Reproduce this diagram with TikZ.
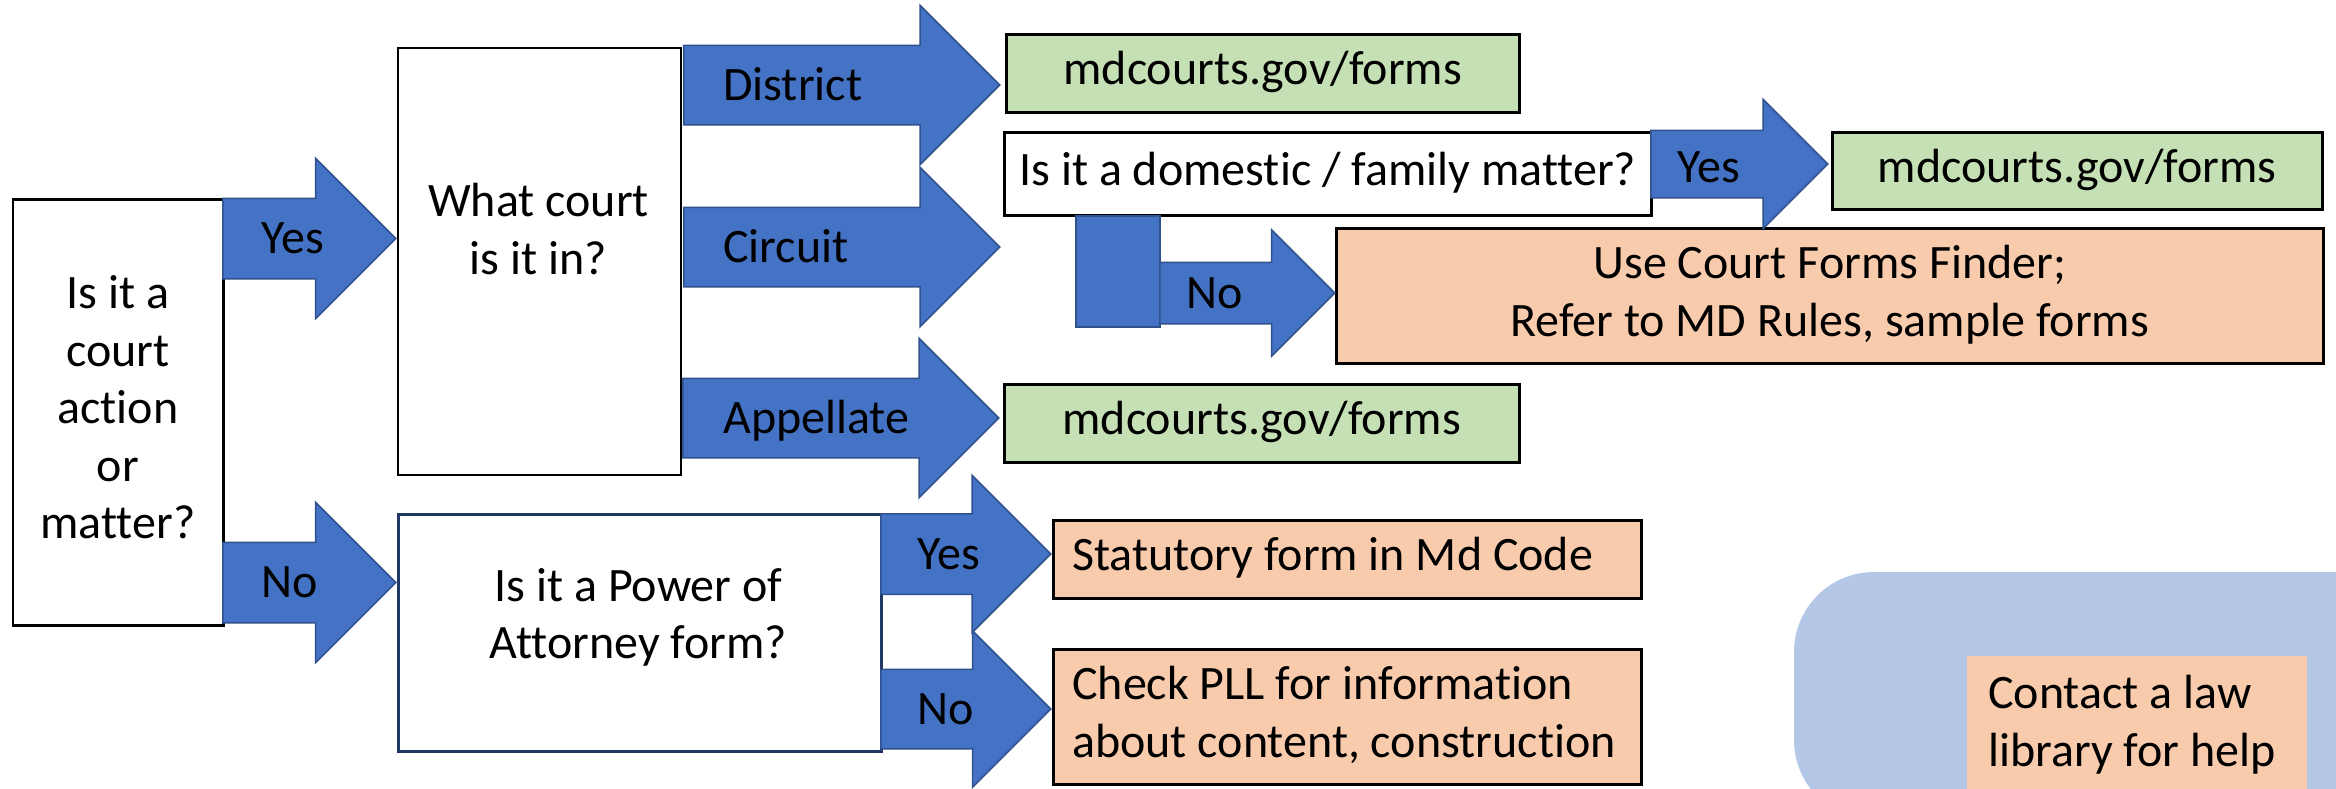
\documentclass[tikz,border=0pt]{standalone}
\usepackage{fontspec}
\setmainfont{Carlito}[Ligatures=NoCommon]
\usetikzlibrary{shapes.arrows}
\definecolor{arrowblue}{HTML}{4472C4}
\definecolor{arrowedge}{HTML}{2F528F}
\definecolor{boxgreen}{HTML}{C5E0B4}
\definecolor{boxorange}{HTML}{F8CBAD}
\definecolor{bgblue}{HTML}{B4C7E7}
\definecolor{navyedge}{HTML}{203864}
\newcommand{\bigfont}{\fontsize{48}{57.6}\selectfont}
\begin{document}
\begin{tikzpicture}[x=1pt,y=-1pt,
  box/.style={draw=black, line width=2.5pt, rectangle, inner sep=0pt, align=center, anchor=north west, font=\bigfont},
  leftbox/.style={box, align=flush left, inner xsep=19pt},
  blk/.style={single arrow, fill=arrowblue, draw=arrowedge, line width=1.5pt, inner xsep=0pt, anchor=tail, shape border rotate=0},
  lbl/.style={font=\bigfont, inner sep=0pt, anchor=base west},
  txt/.style={font=\bigfont, inner sep=0pt, align=center}]
\useasboundingbox (0,0) rectangle (2336,788);

% background panel
\fill[bgblue, rounded corners=80pt] (1794,820) -- (1794,572) -- (2420,572) -- (2420,820) -- cycle;

% question boxes
\node[box, minimum width=210.5pt, minimum height=426pt] (q1) at (11.5,198)
  {\strut Is it a\\\strut court\\\strut action\\\strut or\\\strut matter?};
\node[box, line width=2pt, minimum width=283pt, minimum height=427pt] (q2) at (397,47) {};
\node[txt] (q2t) at (538.5,234) {\strut What court\\\strut is it in?};
\node[box, draw=navyedge, minimum width=483pt, minimum height=237pt] (poa) at (397,513) {};
\node[txt] (poat) at (638.5,618.5) {\strut Is it a Power of\\\strut Attorney form?};
\node[box, fill=white, minimum width=647pt, minimum height=83pt] (dom) at (1003,131)
  {\strut Is it a domestic / family matter?};

% result boxes
\node[box, fill=boxgreen, minimum width=513pt, minimum height=78pt] (g1) at (1005,33) {\strut mdcourts.gov/forms};
\node[box, fill=boxgreen, minimum width=490pt, minimum height=77pt] (g2) at (1831,131) {\strut mdcourts.gov/forms};
\node[box, fill=boxgreen, minimum width=515pt, minimum height=78pt] (g3) at (1003,383) {\strut mdcourts.gov/forms};
\node[box, fill=boxorange, minimum width=987pt, minimum height=135pt] (o1) at (1335,227)
  {\strut Use Court Forms Finder;\\\strut Refer to MD Rules, sample forms};
\node[leftbox, fill=boxorange, text width=550pt, minimum height=78pt] (o2) at (1052,519)
  {\mbox{\strut Statutory form in Md Code}};
\node[leftbox, fill=boxorange, text width=550pt, minimum height=135pt] (o3) at (1052,648)
  {\mbox{\strut Check PLL for information}\\\mbox{\strut about content, construction}};
\node[box, draw=none, fill=boxorange, align=flush left, inner xsep=21pt, text width=298pt, minimum height=140pt] (o4) at (1966,655)
  {\mbox{\strut Contact a law}\\\mbox{\strut library for help}};

% block arrows
\node[blk, minimum height=173pt, inner ysep=39.5pt, single arrow head extend=40pt] (ayes) at (222,238.5) {};
\node[lbl] (lyes) at (261,253.5) {Yes};
\node[blk, minimum height=173pt, inner ysep=39.5pt, single arrow head extend=40pt] (ano) at (222,582.5) {};
\node[lbl] (lno) at (261,597.5) {No};

\node[blk, minimum height=316pt, inner ysep=39pt, single arrow head extend=40pt] (adis) at (683,85) {};
\node[lbl] (ldis) at (723,100) {District};
\node[blk, minimum height=316pt, inner ysep=39pt, single arrow head extend=40pt] (acir) at (683,247) {};
\node[lbl] (lcir) at (723,262) {Circuit};
\node[blk, minimum height=316pt, inner ysep=39pt, single arrow head extend=40pt] (aapp) at (682,418) {};
\node[lbl] (lapp) at (723,433) {Appellate};

\node[blk, minimum height=177pt, inner ysep=33pt, single arrow head extend=31pt] (adyes) at (1650,164) {};
\node[lbl] (ldyes) at (1677,182) {Yes};
\node[rectangle, fill=arrowblue, draw=arrowedge, line width=1.5pt, inner sep=0pt, anchor=north west,
  minimum width=84pt, minimum height=111pt] (dbar) at (1075,215) {};
\node[blk, minimum height=175pt, inner ysep=30pt, single arrow head extend=32.5pt] (adno) at (1159,293) {};
\node[lbl] (ldno) at (1186,308) {No};

\node[blk, minimum height=170pt, inner ysep=39.5pt, single arrow head extend=38.5pt] (apyes) at (880,554) {};
\node[lbl] (lpyes) at (917,569) {Yes};
\node[blk, minimum height=170pt, inner ysep=39pt, single arrow head extend=38.5pt] (apno) at (880,709) {};
\node[lbl] (lpno) at (917,724) {No};
\end{tikzpicture}
\end{document}
